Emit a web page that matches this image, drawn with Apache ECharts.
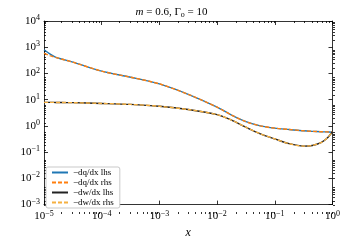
<!DOCTYPE html>
<html><head><meta charset="utf-8">
<script src="https://cdn.jsdelivr.net/npm/echarts@6/dist/echarts.min.js"></script>
<style>html,body{margin:0;padding:0;background:#fff}#c{width:343px;height:244px}</style>
</head><body><div id="c"></div>
<script>
// ---- data ----
const xVals    = [1e-5, 1.26e-5, 1.58e-5, 2e-5, 3.16e-5, 1e-4, 3.16e-4, 1e-3, 3.16e-3, 1e-2, 1.78e-2, 3.16e-2, 5.62e-2, 1e-1, 1.78e-1, 3.16e-1, 4.47e-1, 6.31e-1, 7.94e-1, 1];
const dqdxLhs  = [800, 560, 420, 355, 270, 122, 72, 40, 16, 5.2, 2.6, 1.45, 1.0, 0.82, 0.73, 0.65, 0.62, 0.6, 0.59, 0.58];
const dqdxRhs  = [580, 480, 410, 355, 270, 122, 72, 40, 16, 5.2, 2.6, 1.45, 1.0, 0.82, 0.73, 0.65, 0.62, 0.6, 0.59, 0.58];
const dwdxLhs  = [7.9, 7.9, 7.85, 7.8, 7.7, 7.2, 6.6, 5.6, 4.2, 2.7, 1.66, 0.89, 0.5, 0.32, 0.21, 0.17, 0.18, 0.23, 0.33, 0.6];
const dwdxRhs  = [7.9, 7.9, 7.85, 7.8, 7.7, 7.2, 6.6, 5.6, 4.2, 2.7, 1.66, 0.89, 0.5, 0.32, 0.21, 0.17, 0.18, 0.23, 0.33, 0.6];
const seriesNames = ['−dq/dx lhs', '−dq/dx rhs', '−dw/dx lhs', '−dw/dx rhs'];
const xTicks = [1e-5, 1e-4, 1e-3, 1e-2, 1e-1, 1];
const yTicks = [1e-3, 1e-2, 1e-1, 1, 1e1, 1e2, 1e3, 1e4];

// ---- helpers ----
const FONT = 'Liberation Serif';
function minors(lo, hi) { const r = []; for (let e = lo; e < hi; e++) for (let k = 2; k <= 9; k++) r.push(k * Math.pow(10, e)); return r; }
const xMinor = minors(-5, 0), yMinor = minors(-3, 4);
function fmt(v) { const e = Math.round(Math.log10(v)); return '{b|10}{s|' + (e < 0 ? '−' + (-e) : e) + '}'; }
const rich = { b: { fontFamily: FONT, fontSize: 11, color: '#000' }, s: { fontFamily: FONT, fontSize: 8, color: '#000', verticalAlign: 'bottom', padding: [0, 0, 6, 0] } };
const G = { left: 44, right: 8, top: 21, bottom: 30 };
const lineS = { color: '#000', width: 0.8 };
function ax(type, pos, grid, ticks, len, withLine, withLabel, extra) {
  const isX = type === 'x';
  return Object.assign({
    type: 'log', logBase: 10, gridIndex: grid, position: pos,
    min: isX ? 1e-5 : 1e-3, max: isX ? 1 : 1e4,
    axisLine: { show: withLine, onZero: false, lineStyle: lineS },
    axisTick: { show: true, inside: true, length: len, customValues: ticks, lineStyle: lineS },
    axisLabel: withLabel ? { show: true, customValues: ticks, formatter: fmt, rich: rich, margin: isX ? 5 : 4 } : { show: false },
    splitLine: { show: false }, minorTick: { show: false }
  }, extra || {});
}
const series = [
  { name: seriesNames[0], data: dqdxLhs, color: '#1f77b4', type: 'solid' },
  { name: seriesNames[1], data: dqdxRhs, color: '#ff7f0e', type: [4, 2] },
  { name: seriesNames[2], data: dwdxLhs, color: '#222222', type: 'solid' },
  { name: seriesNames[3], data: dwdxRhs, color: '#f5b041', type: [4, 2] }
].map(s => ({
  name: s.name, type: 'line', xAxisIndex: 0, yAxisIndex: 0, showSymbol: false, symbol: 'none', smooth: 0.3,
  color: s.color, lineStyle: { color: s.color, width: 1.4, type: s.type },
  data: xVals.map((x, i) => [x, s.data[i]])
}));

const chart = echarts.init(document.getElementById('c'), null, { renderer: 'canvas' });
chart.setOption({
  animation: false,
  backgroundColor: '#fff',
  title: {
    text: '{i|m} = 0.6, Γ{sub|o} = 10', left: 'center', top: 0,
    textStyle: { fontFamily: FONT, fontSize: 11, fontWeight: 'normal', color: '#000',
      rich: { i: { fontFamily: FONT, fontSize: 11, fontStyle: 'italic', color: '#000' }, sub: { fontFamily: FONT, fontSize: 8, color: '#000', verticalAlign: 'top', padding: [6, 0, 0, 0] } } }
  },
  grid: [Object.assign({}, G), Object.assign({}, G)],
  xAxis: [
    ax('x', 'bottom', 0, xTicks, 4, true, true, { name: 'x', nameLocation: 'middle', nameGap: 22, nameTextStyle: { fontFamily: FONT, fontStyle: 'italic', fontSize: 12, color: '#000' } }),
    ax('x', 'top', 0, xTicks, 4, true, false),
    ax('x', 'bottom', 1, xMinor, 2, false, false),
    ax('x', 'top', 1, xMinor, 2, false, false)
  ],
  yAxis: [
    ax('y', 'left', 0, yTicks, 4, true, true),
    ax('y', 'right', 0, yTicks, 4, true, false),
    ax('y', 'left', 1, yMinor, 2, false, false),
    ax('y', 'right', 1, yMinor, 2, false, false)
  ],
  legend: {
    data: seriesNames, orient: 'vertical', left: 46, top: 167,
    itemWidth: 16, itemHeight: 7, itemGap: 1,
    itemStyle: { opacity: 0 },
    backgroundColor: '#fff', borderColor: '#bbb', borderWidth: 0.8, borderRadius: 2, padding: [1, 6, 1, 5],
    textStyle: { fontFamily: FONT, fontSize: 9, lineHeight: 8.5, color: '#000' }
  },
  series: series
});
</script></body></html>
